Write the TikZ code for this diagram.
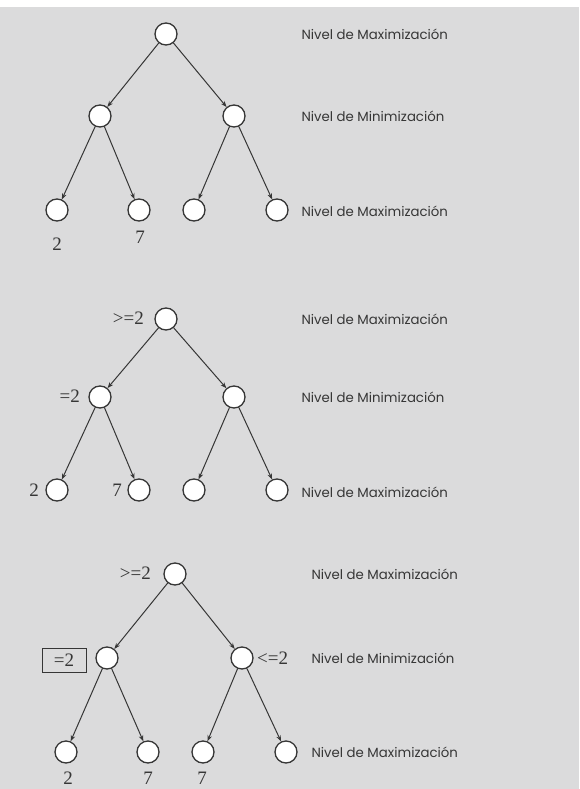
\documentclass[tikz,border=0pt]{standalone}
\usepackage{fontspec}
\setmainfont{Liberation Serif}
\newfontfamily\lvlfont{Poppins}
\usetikzlibrary{arrows.meta}
\definecolor{bg}{HTML}{DBDBDC}
\definecolor{ink}{HTML}{363636}
\tikzset{
  nd/.style={circle, draw=ink, line width=1.3pt, fill=white, minimum size=22pt, inner sep=0pt},
  lvl/.style={anchor=west, text=ink, font=\lvlfont\fontsize{13.3}{14}\selectfont},
  num/.style={text=ink, font=\fontsize{19}{19}\selectfont, inner sep=0pt},
  arr/.style={draw=ink, line width=1pt, -{Stealth[length=6pt,width=4.5pt]}},
  valbox/.style={draw=ink, line width=1pt, minimum width=44pt, minimum height=24pt, inner sep=0pt}
}
\begin{document}
\begin{tikzpicture}[x=1pt,y=-1pt]
\useasboundingbox (0,0) rectangle (579,789);
\fill[white] (0,0) rectangle (579,7);
\fill[bg] (0,7) rectangle (579,789);

% ---------- Diagram 1 ----------
\node[nd] (r1) at (166,34) {};
\node[nd] (a1) at (100,116) {};
\node[nd] (b1) at (234,116) {};
\node[nd] (l11) at (57,210) {};
\node[nd] (l12) at (139,210) {};
\node[nd] (l13) at (194,210) {};
\node[nd] (l14) at (277,210) {};
\draw[arr] (r1) -- (a1);
\draw[arr] (r1) -- (b1);
\draw[arr] (a1) -- (l11);
\draw[arr] (a1) -- (l12);
\draw[arr] (b1) -- (l13);
\draw[arr] (b1) -- (l14);
\node[num] (n11) at (57,244) {2};
\node[num] (n12) at (140,237) {7};
\node[lvl] (t11) at (298,34) {Nivel de Maximización};
\node[lvl] (t12) at (298,116) {Nivel de Minimización};
\node[lvl] (t13) at (298,211) {Nivel de Maximización};

% ---------- Diagram 2 ----------
\node[nd] (r2) at (166,319) {};
\node[nd] (a2) at (100,397) {};
\node[nd] (b2) at (234,397) {};
\node[nd] (l21) at (57,490) {};
\node[nd] (l22) at (139,490) {};
\node[nd] (l23) at (194,490) {};
\node[nd] (l24) at (277,490) {};
\draw[arr] (r2) -- (a2);
\draw[arr] (r2) -- (b2);
\draw[arr] (a2) -- (l21);
\draw[arr] (a2) -- (l22);
\draw[arr] (b2) -- (l23);
\draw[arr] (b2) -- (l24);
\node[num, anchor=east] (v21) at (144,318) {>=2};
\node[num, anchor=east] (v22) at (80,396) {=2};
\node[num, anchor=east] (n21) at (39,490) {2};
\node[num, anchor=east] (n22) at (122,490) {7};
\node[lvl] (t21) at (298,319) {Nivel de Maximización};
\node[lvl] (t22) at (298,397) {Nivel de Minimización};
\node[lvl] (t23) at (298,492) {Nivel de Maximización};

% ---------- Diagram 3 ----------
\node[nd] (r3) at (175,574) {};
\node[nd] (a3) at (107,658) {};
\node[nd] (b3) at (242,658) {};
\node[nd] (l31) at (66,752) {};
\node[nd] (l32) at (148,752) {};
\node[nd] (l33) at (203,752) {};
\node[nd] (l34) at (286,752) {};
\draw[arr] (r3) -- (a3);
\draw[arr] (r3) -- (b3);
\draw[arr] (a3) -- (l31);
\draw[arr] (a3) -- (l32);
\draw[arr] (b3) -- (l33);
\draw[arr] (b3) -- (l34);
\node[num, anchor=east] (v31) at (151,573) {>=2};
\node[valbox] (v32) at (64,660) {};
\node[num] (v32t) at (v32) {=2};
\node[num, anchor=west] (v33) at (257,658) {<=2};
\node[num] (n31) at (68,778) {2};
\node[num] (n32) at (148,778) {7};
\node[num] (n33) at (202,778) {7};
\node[lvl] (t31) at (308,574) {Nivel de Maximización};
\node[lvl] (t32) at (308,658) {Nivel de Minimización};
\node[lvl] (t33) at (308,752) {Nivel de Maximización};
\end{tikzpicture}
\end{document}
